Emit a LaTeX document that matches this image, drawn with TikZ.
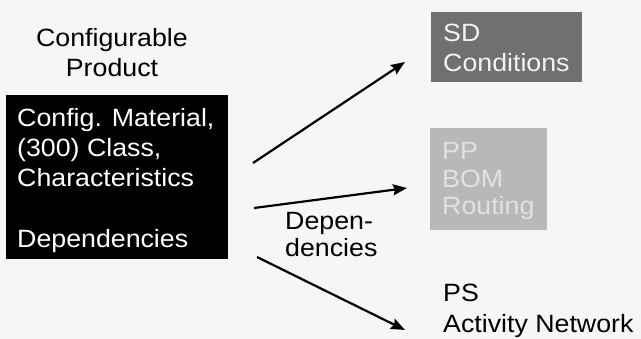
\documentclass[tikz,border=0pt]{standalone}
\usepackage{fontspec}
\setmainfont{Liberation Sans}[FakeStretch=1.07]
\usetikzlibrary{arrows.meta}
\definecolor{bgc}{HTML}{F6F6F6}
\definecolor{sdc}{HTML}{707070}
\definecolor{ppc}{HTML}{B8B8B8}
\definecolor{pptxt}{HTML}{E2E2E2}
\begin{document}
\begin{tikzpicture}[x=1pt,y=-1pt,
  lbl/.style={font=\fontsize{25}{30}\selectfont, inner sep=0pt, align=left, anchor=base west},
  boxn/.style={inner sep=0pt, anchor=north west},
  arr/.style={line width=2.2pt, -{Stealth[length=14pt,width=11pt,inset=2pt]}}]
\fill[bgc] (0,0) rectangle (641,339);
\useasboundingbox (0,0) rectangle (641,339);

% anchors give the baseline of the last line of each text
\node[lbl, align=center, anchor=base] (title) at (112,77) {Configurable\\Product};

\node[boxn, fill=black, minimum width=222pt, minimum height=164pt] (cfg) at (6,95) {};
\node[lbl, white] (cfgtxt) at (17,248) {Config. Material,\\(300) Class,\\Characteristics\\[31pt]Dependencies};

\node[boxn, fill=sdc, minimum width=151pt, minimum height=70pt] (sd) at (431,12) {};
\node[lbl, white!95!black] (sdtxt) at (443,72) {SD\\Conditions};

\node[boxn, fill=ppc, minimum width=117pt, minimum height=102pt] (pp) at (430,128) {};
\node[lbl, pptxt, font=\fontsize{25}{27.5}\selectfont] (pptext) at (442,215) {PP\\BOM\\Routing};

\node[lbl, font=\fontsize{25}{31}\selectfont] (ps) at (443,333) {PS\\Activity Network};

\node[lbl, font=\fontsize{25}{27}\selectfont] (dep) at (285,257) {Depen-\\dencies};

\coordinate (s1) at (253,163);
\coordinate (t1) at (405,62);
\coordinate (s2) at (254,208);
\coordinate (t2) at (407,188);
\coordinate (s3) at (257,257);
\coordinate (t3) at (405,330);
\draw[arr] (s1) -- (t1);
\draw[arr] (s2) -- (t2);
\draw[arr] (s3) -- (t3);
\end{tikzpicture}
\end{document}
